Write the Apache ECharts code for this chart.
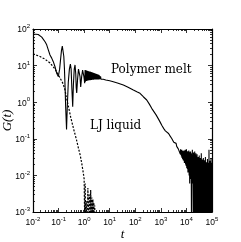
<!DOCTYPE html>
<html><head><meta charset="utf-8">
<script src="https://cdn.jsdelivr.net/npm/echarts@6/dist/echarts.min.js"></script>
<style>html,body{margin:0;padding:0;background:#fff}#c{width:241px;height:242px}</style>
</head><body><div id="c"></div>
<script>
const xTicks = [1e-2, 1e-1, 1, 10, 100, 1000, 1e4, 1e5];
const yTicks = [1e-3, 1e-2, 1e-1, 1, 10, 100];

const polyT = [
  0.01, 0.013, 0.016, 0.0188, 0.022, 0.0253, 0.03, 0.0343, 0.0397, 0.0462, 0.0539, 0.0622, 0.0725, 0.0845, 0.0976,
  0.11, 0.12, 0.13, 0.14, 0.15, 0.16, 0.17, 0.18, 0.19, 0.205, 0.22, 0.24, 0.265, 0.29, 0.31, 0.33, 0.357, 0.38, 0.41, 0.44, 0.47, 0.49, 0.512, 0.55, 0.6, 0.647, 0.69, 0.733, 0.8, 0.87, 0.927, 0.98, 1.05,
  1.09, 1.12, 1.16, 1.19, 1.23, 1.27, 1.31, 1.35, 1.39, 1.43, 1.48, 1.52, 1.57, 1.62, 1.67, 1.72, 1.77, 1.83, 1.88, 1.94, 2.0, 2.06, 2.13, 2.19, 2.26, 2.33, 2.4, 2.48, 2.55, 2.63, 2.71, 2.8, 2.88, 2.97, 3.06, 3.16, 3.26, 3.36, 3.46, 3.57, 3.68, 3.79, 3.91, 4.03, 4.15, 4.28, 4.41, 4.55, 4.69, 4.83, 4.98, 5.14, 5.3, 5.46,
  5.6, 7, 10, 13.8, 20, 34, 50, 84, 120, 153, 206, 280, 350, 439, 507, 650, 800, 927, 1100, 1300, 1500, 1690, 2000, 2280, 2500, 2700, 2950, 3200, 3450, 3700, 3950, 4170, 4450, 4800, 5150,
  5600, 5750, 5900, 6060, 6220, 6390, 6560, 6740, 6920, 7100, 7290, 7490, 7690, 7900, 8110, 8330, 8550, 8780, 9020, 9260, 9510, 9770, 10030, 10300, 10580, 10860, 11150, 11450, 11760, 12080, 12400, 12740, 13080, 13430, 13790,
  14170, 14540, 14930, 15330, 15740, 16160, 16590, 17040, 17500, 17970, 18450, 18950, 19460, 19980, 20520, 21070, 21640, 22220, 22820, 23430, 24060, 24710, 25370, 26050, 26750, 27470,
  28210, 28870, 29550, 30240, 30950, 31670, 32410, 33170, 33950, 34740, 35560, 36390, 37240, 38110, 39000, 39910, 40850, 41800, 42780, 43780, 44800, 45850, 46920, 48020, 49140, 50290, 51470, 52670, 53900, 55160, 56450, 57770, 59120, 60500, 61920, 63370, 64850, 66360, 67910, 69500, 71130, 72790, 74490, 76230, 78010, 79830, 81700, 83610, 85560, 87560, 89600, 91700, 93840, 96030, 98270, 100000
];
const polyG = [
  72, 72, 70.5, 66, 60, 53, 44, 37, 27, 19.5, 16, 12.8, 9.3, 6.2, 5,
  8, 15, 26, 34, 30, 18, 8, 2.5, 0.7, 0.18, 0.8, 3.5, 8, 11, 8, 2.5, 0.75, 3, 8, 10.4, 6, 2.5, 1.8, 4, 8, 9, 5, 2.6, 5, 7.5, 7.9, 5, 3.3,
  7.6, 3.6, 7.4, 3.8, 7.3, 3.8, 7.2, 3.9, 7.1, 3.9, 7.0, 4.0, 6.9, 4.0, 6.9, 4.0, 6.8, 4.05, 6.7, 4.05, 6.6, 4.1, 6.5, 4.1, 6.4, 4.1, 6.3, 4.15, 6.2, 4.15, 6.1, 4.15, 6.0, 4.2, 5.9, 4.2, 5.8, 4.2, 5.7, 4.2, 5.6, 4.2, 5.4, 4.25, 5.2, 4.25, 5.0, 4.25, 4.8, 4.3, 4.6, 4.3, 4.45, 4.3,
  4.25, 4.05, 3.85, 3.63, 3.35, 2.95, 2.6, 2.15, 1.9, 1.75, 1.41, 1.15, 0.9, 0.68, 0.6, 0.45, 0.35, 0.29, 0.23, 0.19, 0.165, 0.15, 0.14, 0.12, 0.118, 0.1, 0.098, 0.08, 0.084, 0.072, 0.075, 0.062, 0.066, 0.053, 0.058,
  0.05, 0.038, 0.052, 0.036, 0.048, 0.033, 0.05, 0.03, 0.046, 0.028, 0.047, 0.026, 0.044, 0.025, 0.048, 0.022, 0.043, 0.024, 0.05, 0.02, 0.045, 0.018, 0.052, 0.016, 0.04, 0.015, 0.046, 0.012, 0.042, 0.014, 0.048, 0.01, 0.04, 0.006, 0.044,
  0.012, 0.045, 0.008, 0.038, 0.0005, 0.04, 0.01, 0.05, 0.006, 0.035, 0.0003, 0.042, 0.0004, 0.038, 0.009, 0.045, 0.0002, 0.036, 0.004, 0.04, 0.0003, 0.033, 0.002, 0.038, 0.0002, 0.03,
  0.0002, 0.032, 0.0001, 0.028, 0.0003, 0.035, 0.0001, 0.025, 0.0002, 0.03, 0.0001, 0.022, 0.0002, 0.04, 0.0001, 0.02, 0.0003, 0.027, 0.0001, 0.024, 0.0002, 0.03, 0.0001, 0.018, 0.0002, 0.026, 0.0001, 0.02, 0.0003, 0.032, 0.0001, 0.017, 0.0002, 0.023, 0.0001, 0.02, 0.0002, 0.028, 0.0001, 0.016, 0.0002, 0.022, 0.0001, 0.05, 0.0002, 0.019, 0.0001, 0.025, 0.0002, 0.018, 0.0001, 0.03, 0.0002, 0.02, 0.0001, 0.022
];

const ljT = [0.01, 0.0188, 0.0295, 0.0462, 0.0725, 0.114, 0.15, 0.179, 0.2, 0.25, 0.3, 0.4, 0.5, 0.6, 0.7, 0.8, 0.93, 1.0, 1.05, 1.1, 1.15, 1.2, 1.3, 1.4, 1.5, 1.6, 1.7, 1.8, 1.9, 2.0, 2.1, 2.2, 2.3, 2.4, 2.5, 2.6, 2.7];
const ljG = [21, 17.7, 15, 11.8, 8.1, 4.6, 3.2, 2.15, 1.4, 0.7, 0.38, 0.17, 0.095, 0.055, 0.036, 0.022, 0.0115, 0.008, 0.0005, 0.006, 0.0003, 0.002, 0.0002, 0.0045, 0.0004, 0.003, 0.0001, 0.004, 0.0005, 0.0025, 0.0003, 0.0022, 0.0002, 0.0018, 0.0001, 0.0015, 0.0001];

const labelPolymer = 'Polymer melt';
const labelLJ = 'LJ liquid';

function minorOf(majors) {
  const out = [];
  for (let i = 0; i < majors.length - 1; i++) {
    for (let m = 2; m <= 9; m++) out.push(+(m * majors[i]).toPrecision(6));
  }
  return out;
}
const xMinor = minorOf(xTicks);
const yMinor = minorOf(yTicks);

const zip = (a, b) => a.map((v, i) => [v, b[i]]);

function fmt(v) {
  const e = Math.round(Math.log10(v));
  return '{b|10}{s|' + e + '}';
}
const rich = {
  b: {fontSize: 8.5, fontFamily: 'Liberation Sans', color: '#000', lineHeight: 11, verticalAlign: 'bottom'},
  s: {fontSize: 6, fontFamily: 'Liberation Sans', color: '#000', lineHeight: 11, verticalAlign: 'top', padding: [0, 0, 3, 0]}
};

const lineC = {color: '#000', width: 1.2};
function xAx(pos, major) {
  return {
    type: 'log', logBase: 10, min: 1e-2, max: 1e5, position: pos, gridIndex: 0,
    axisLine: {show: major, onZero: false, lineStyle: lineC},
    axisTick: {show: true, inside: true, length: major ? 4 : 2, customValues: major ? xTicks : xMinor, lineStyle: {color: '#000', width: 0.8}},
    axisLabel: {show: major && pos === 'bottom', customValues: xTicks, formatter: fmt, rich: rich, margin: 4},
    splitLine: {show: false}, minorTick: {show: false},
    name: (major && pos === 'bottom') ? 't' : '', nameLocation: 'middle', nameGap: 16, nameMoveOverlap: false,
    nameTextStyle: {fontFamily: 'Liberation Serif', fontStyle: 'italic', fontSize: 13, color: '#000'}
  };
}
function yAx(pos, major) {
  return {
    type: 'log', logBase: 10, min: 1e-3, max: 1e2, position: pos, gridIndex: 0,
    axisLine: {show: major, onZero: false, lineStyle: lineC},
    axisTick: {show: true, inside: true, length: major ? 4 : 2, customValues: major ? yTicks : yMinor, lineStyle: {color: '#000', width: 0.8}},
    axisLabel: {show: major && pos === 'left', customValues: yTicks, formatter: fmt, rich: rich, margin: 3},
    splitLine: {show: false}, minorTick: {show: false},
    name: (major && pos === 'left') ? 'G(t)' : '', nameLocation: 'middle', nameGap: 19, nameMoveOverlap: false,
    nameTextStyle: {fontFamily: 'Liberation Serif', fontStyle: 'italic', fontSize: 13, color: '#000'}
  };
}

const chart = echarts.init(document.getElementById('c'), null, {renderer: 'canvas'});
chart.setOption({
  animation: false,
  backgroundColor: '#fff',
  grid: {left: 33, right: 29, top: 29, bottom: 30, containLabel: false, outerBoundsMode: 'none'},
  xAxis: [xAx('bottom', true), xAx('bottom', false), xAx('top', true), xAx('top', false)],
  yAxis: [yAx('left', true), yAx('left', false), yAx('right', true), yAx('right', false)],
  series: [
    {type: 'line', xAxisIndex: 0, yAxisIndex: 0, data: zip(polyT, polyG), showSymbol: false, symbol: 'none', clip: true,
     lineStyle: {color: '#000', width: 1.1}},
    {type: 'line', xAxisIndex: 0, yAxisIndex: 0, data: zip(ljT, ljG), showSymbol: false, symbol: 'none', clip: true,
     lineStyle: {color: '#000', width: 1.2, type: [2, 1.5]}}
  ],
  graphic: [
    {type: 'text', left: 111, top: 64, style: {text: labelPolymer, font: '12px "DejaVu Serif"', fill: '#000'}},
    {type: 'text', left: 90, top: 120, style: {text: labelLJ, font: '12px "DejaVu Serif"', fill: '#000'}}
  ]
});
</script>
</body></html>
